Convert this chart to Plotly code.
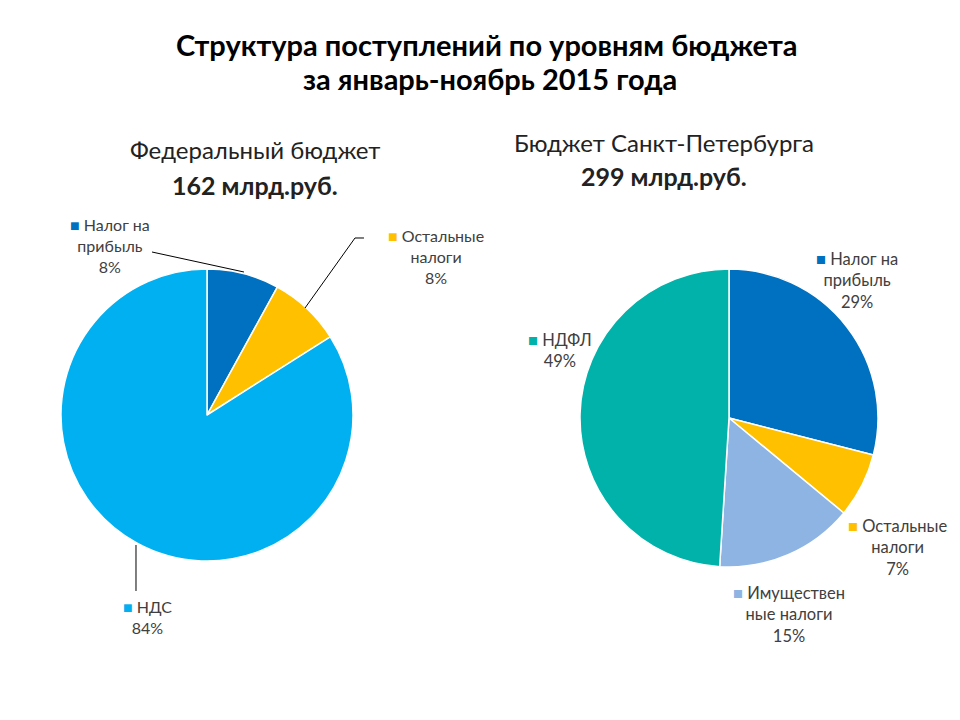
import plotly.graph_objects as go

W, H = 960, 720
OFF = 8  # page body margin in the browser

title_lines = ["Структура поступлений по уровням бюджета", "за январь-ноябрь 2015 года"]

fed_title = "Федеральный бюджет"
fed_total = "162 млрд.руб."
fed_labels = ["Налог на прибыль", "Остальные налоги", "НДС"]
fed_label_text = ["Налог на<br>прибыль", "Остальные<br>налоги", "НДС"]
fed_values = [8, 8, 84]
fed_colors = ["#0070C0", "#FFC000", "#00B0F0"]

spb_title = "Бюджет Санкт-Петербурга"
spb_total = "299 млрд.руб."
spb_labels = ["Налог на прибыль", "Остальные налоги", "Имущественные налоги", "НДФЛ"]
spb_label_text = ["Налог на<br>прибыль", "Остальные<br>налоги", "Имуществен<br>ные налоги", "НДФЛ"]
spb_values = [29, 7, 15, 49]
spb_colors = ["#0070C0", "#FFC000", "#8DB4E2", "#00B2A9"]

FONT = "Lato"
TXT = "#404040"


def px(x):
    return (x - OFF) / W


def py(y):
    return 1 - (y - OFF) / H


fig = go.Figure()
fig.add_trace(go.Pie(
    labels=fed_labels, values=fed_values, sort=False, direction="clockwise", rotation=0,
    marker=dict(colors=fed_colors, line=dict(color="white", width=1.5)),
    textinfo="none", hoverinfo="label+percent", showlegend=False,
    domain=dict(x=[px(61), px(353)], y=[py(561), py(269)]),
))
fig.add_trace(go.Pie(
    labels=spb_labels, values=spb_values, sort=False, direction="clockwise", rotation=0,
    marker=dict(colors=spb_colors, line=dict(color="white", width=1.5)),
    textinfo="none", hoverinfo="label+percent", showlegend=False,
    domain=dict(x=[px(580), px(878)], y=[py(567), py(269)]),
))

annotations = []


def add_text(x, y, text, size, bold=False, color="black"):
    annotations.append(dict(
        x=px(x), y=py(y), xref="paper", yref="paper", showarrow=False,
        text=("<b>%s</b>" % text) if bold else text,
        font=dict(family=FONT, size=size, color=color), xanchor="center", yanchor="middle",
    ))


add_text(487, 44, title_lines[0], 29, bold=True)
add_text(490, 79, title_lines[1], 29, bold=True)
add_text(255, 150, fed_title, 24, color="#222222")
add_text(255, 185, fed_total, 25, bold=True, color="#222222")
add_text(664, 142, spb_title, 24, color="#222222")
add_text(664, 176, spb_total, 25, bold=True, color="#222222")


def label_html(name, value, total, color):
    pct = round(value / total * 100)
    return '<span style="color:%s">■</span> %s<br>%d%%' % (color, name, pct)


fed_pos = [(110, 246), (436, 256), (147, 617)]
spb_pos = [(857, 280), (897, 547), (789, 614), (560, 350)]

for name, v, c, (x, y) in zip(fed_label_text, fed_values, fed_colors, fed_pos):
    add_text(x, y, label_html(name, v, sum(fed_values), c), 16, color=TXT)
for name, v, c, (x, y) in zip(spb_label_text, spb_values, spb_colors, spb_pos):
    add_text(x, y, label_html(name, v, sum(spb_values), c), 16.5, color=TXT)

leader_paths = [
    [(152, 252), (244, 272)],
    [(305, 308), (355, 238), (364, 238)],
    [(136, 545), (136, 591)],
]
shapes = []
for pts in leader_paths:
    path = "M " + " L ".join("%f,%f" % (px(x), py(y)) for x, y in pts)
    shapes.append(dict(type="path", path=path, xref="paper", yref="paper",
                       line=dict(color="black", width=1)))

fig.update_layout(
    width=W, height=H, margin=dict(l=0, r=0, t=0, b=0),
    paper_bgcolor="white", plot_bgcolor="white",
    annotations=annotations, shapes=shapes,
)

fig.write_html("out.html")
